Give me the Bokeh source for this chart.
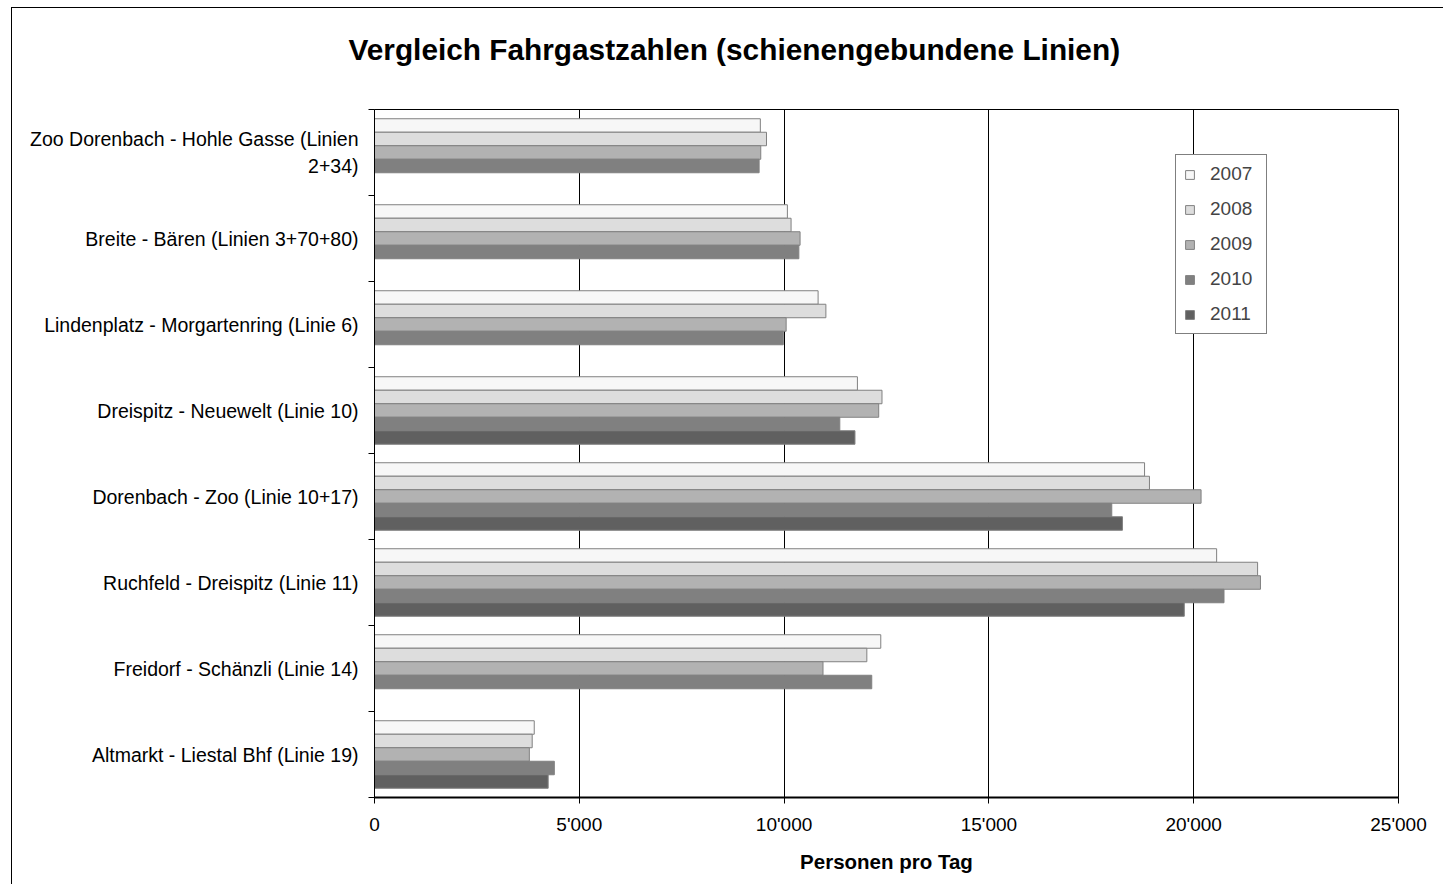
from bokeh.plotting import figure
from bokeh.models import ColumnDataSource, FixedTicker, Range1d, Legend, LegendItem, Title
from bokeh.embed import file_html
from bokeh.resources import INLINE

title_text = "Vergleich Fahrgastzahlen (schienengebundene Linien)"
categories = [
    "Zoo Dorenbach - Hohle Gasse (Linien\n2+34)",
    "Breite - Bären (Linien 3+70+80)",
    "Lindenplatz - Morgartenring (Linie 6)",
    "Dreispitz - Neuewelt (Linie 10)",
    "Dorenbach - Zoo (Linie 10+17)",
    "Ruchfeld - Dreispitz (Linie 11)",
    "Freidorf - Schänzli (Linie 14)",
    "Altmarkt - Liestal Bhf (Linie 19)",
]
years = ["2007", "2008", "2009", "2010", "2011"]
v2007 = [9420, 10080, 10830, 11790, 18800, 20560, 12360, 3900]
v2008 = [9570, 10170, 11020, 12390, 18920, 21560, 12020, 3850]
v2009 = [9430, 10390, 10050, 12310, 20180, 21630, 10950, 3780]
v2010 = [9390, 10360, 9980, 11360, 18000, 20740, 12140, 4390]
v2011 = [None, None, None, 11730, 18260, 19770, None, 4240]
series = [v2007, v2008, v2009, v2010, v2011]
colors = ["#F7F7F7", "#DDDDDD", "#B2B2B2", "#808080", "#606060"]
x_ticks = [0, 5000, 10000, 15000, 20000, 25000]
x_tick_labels = ["0", "5'000", "10'000", "15'000", "20'000", "25'000"]

FONT = "Liberation Sans"
n = len(categories)
centers = [n - i - 0.5 for i in range(n)]
bar_h = 0.157

p = figure(width=1432, height=877, output_backend="svg", toolbar_location=None,
           title=None,
           x_range=Range1d(0, 25000), y_range=Range1d(0, n),
           min_border_left=362, min_border_right=46, min_border_top=101,
           min_border_bottom=88)
p.styles = {"border-left": "1px solid black", "border-top": "1px solid black",
            "margin-left": "11px", "margin-top": "7px"}

# spacer between frame and title (added first -> closest to the frame)
spacer = Title(text=" ", text_font_size="2px", standoff=38, align="left")
p.add_layout(spacer, "above")
main_title = Title(text=title_text, align="left", vertical_align="top", offset=-26,
                   standoff=0, text_font=FONT, text_font_size="29.8px",
                   text_font_style="bold", text_color="black")
p.add_layout(main_title, "above")

items = []
for j, (yr, vals, col) in enumerate(zip(years, series, colors)):
    ys, xs = [], []
    for c, v in zip(centers, vals):
        if v is not None:
            ys.append(c + (2 - j) * bar_h)
            xs.append(v)
    src = ColumnDataSource(dict(y=ys, right=xs))
    r = p.hbar(y="y", right="right", left=0, height=bar_h, source=src,
               fill_color=col, line_color="#808080", line_width=1)
    items.append(LegendItem(label=yr, renderers=[r]))

legend = Legend(items=items, location=(801, 463))
legend.border_line_color = "black"
legend.border_line_width = 1
legend.background_fill_color = "white"
legend.background_fill_alpha = 1
legend.label_text_font = FONT
legend.label_text_font_size = "19px"
legend.glyph_width = 11
legend.glyph_height = 11
legend.label_standoff = 15
legend.label_width = 48
legend.padding = 8
legend.spacing = 13
legend.margin = 0
p.add_layout(legend, "center")

# x axis
xa = p.xaxis[0]
xa.ticker = FixedTicker(ticks=x_ticks)
xa.major_label_overrides = {t: l for t, l in zip(x_ticks, x_tick_labels)}
xa.axis_line_width = 2
xa.axis_line_color = "black"
xa.major_tick_in = 0
xa.major_tick_out = 6
xa.major_tick_line_color = "black"
xa.minor_tick_line_color = None
xa.major_label_text_font = FONT
xa.major_label_text_font_size = "19px"
xa.major_label_text_color = "black"
xa.major_label_standoff = 10
xa.axis_label = "Personen pro Tag"
xa.axis_label_text_font = FONT
xa.axis_label_text_font_size = "20.5px"
xa.axis_label_text_font_style = "bold"
xa.axis_label_text_color = "black"
xa.axis_label_standoff = 12

# y axis
ya = p.yaxis[0]
ya.ticker = FixedTicker(ticks=centers, minor_ticks=list(range(n + 1)))
ya.major_label_overrides = {c: lab for c, lab in zip(centers, categories)}
ya.major_tick_in = 0
ya.major_tick_out = 0
ya.minor_tick_in = 0
ya.minor_tick_out = 6
ya.minor_tick_line_color = "black"
ya.axis_line_color = "black"
ya.major_label_text_font = FONT
ya.major_label_text_font_size = "19.5px"
ya.major_label_text_color = "black"
ya.major_label_standoff = 10

p.xgrid.ticker = FixedTicker(ticks=x_ticks)
p.xgrid.grid_line_color = "black"
p.xgrid.grid_line_width = 1
p.ygrid.grid_line_color = None
p.outline_line_color = "black"
p.background_fill_color = "white"
p.border_fill_color = "white"

open("out.html", "w").write(file_html(p, INLINE))
